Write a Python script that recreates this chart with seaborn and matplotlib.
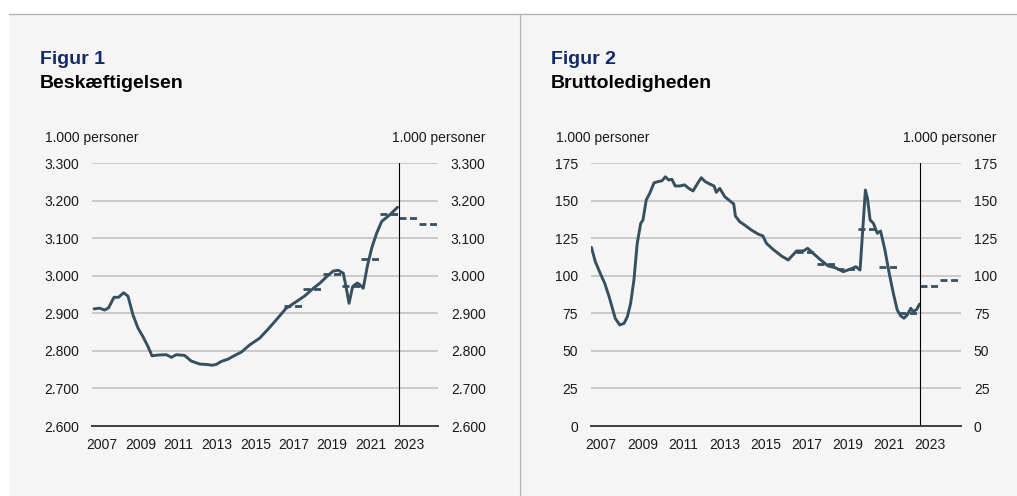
import numpy as np
import matplotlib.pyplot as plt
import seaborn as sns
from matplotlib.patches import Rectangle
from matplotlib.lines import Line2D

# Figur 1: Beskæftigelsen (1.000 personer)
t1 = [2007.09, 2007.38, 2007.64, 2007.85, 2008.13, 2008.37, 2008.63, 2008.86,
      2009.12, 2009.38, 2009.64, 2009.90, 2010.11, 2010.42, 2010.86, 2011.12,
      2011.38, 2011.81, 2012.16, 2012.60, 2012.94, 2013.24, 2013.46, 2013.72,
      2014.07, 2014.42, 2014.77, 2015.20, 2015.72, 2016.16, 2016.59, 2017.09,
      2017.65, 2018.08, 2018.52, 2018.87, 2019.21, 2019.56, 2019.82, 2020.08,
      2020.22, 2020.38, 2020.57, 2020.81, 2020.95, 2021.12, 2021.33, 2021.56,
      2021.82, 2022.08, 2022.51, 2022.91]
v1 = [2912, 2914, 2909, 2915, 2943, 2943, 2955, 2946,
      2896, 2861, 2838, 2812, 2787, 2789, 2790, 2783,
      2790, 2788, 2773, 2765, 2764, 2762, 2764, 2772,
      2778, 2788, 2797, 2816, 2834, 2858, 2883, 2913,
      2932, 2947, 2967, 2981, 2998, 3013, 3015, 3007,
      2972, 2927, 2972, 2981, 2976, 2967, 3025, 3074,
      3114, 3145, 3163, 3183]

# Figur 2: Bruttoledigheden (1.000 personer)
t2 = [2007.02, 2007.21, 2007.45, 2007.67, 2007.88,
      2008.02, 2008.18, 2008.40, 2008.61, 2008.77, 2008.93,
      2009.09, 2009.25, 2009.42, 2009.53, 2009.69, 2009.86,
      2010.07, 2010.26, 2010.46, 2010.62, 2010.78, 2010.94,
      2011.10, 2011.32, 2011.56, 2011.76, 2011.97,
      2012.17, 2012.37, 2012.56, 2012.78, 2012.99,
      2013.10, 2013.27, 2013.51, 2013.75, 2013.95,
      2014.03, 2014.24, 2014.48, 2014.80,
      2015.13, 2015.37, 2015.54, 2015.86,
      2016.27, 2016.60,
      2017.01, 2017.34, 2017.55, 2017.82,
      2018.15, 2018.55, 2018.88,
      2019.28, 2019.61, 2019.90,
      2020.10, 2020.23, 2020.36, 2020.46, 2020.59, 2020.75, 2020.94,
      2021.10, 2021.31, 2021.52, 2021.72, 2021.91,
      2022.08, 2022.24, 2022.40, 2022.57, 2022.69, 2022.86, 2023.00]
v2 = [119, 109.5, 101.7, 95, 86.2,
      79.5, 71.7, 67.3, 68.4, 72.8, 81.7,
      97.3, 121.7, 135, 137.2, 150.6, 155,
      162, 162.8, 163.4, 166, 163.9, 164.3,
      159.9, 159.9, 160.6, 158.3, 156.6,
      161.2, 165.4, 162.8, 161.2, 159.9,
      155.7, 158.3, 152.8, 150.1, 147.9,
      139.9, 136.1, 133.9, 130.6,
      127.9, 126.6, 121.7, 117.7,
      113.3, 110.6,
      116.6, 116.6, 118.4, 115,
      111, 106.6, 105.5,
      102.8, 104.4, 106.1,
      103.9, 130.6, 157.2, 151.7, 137.2, 135, 128.4,
      129.9, 117.3, 101.7, 88.4, 77.3,
      73.3, 71.8, 74, 78.4, 76.2, 77.7, 81.3]

# yearly averages / forecasts (dashed)
avg_years = [2017, 2018, 2019, 2020, 2021, 2022, 2023, 2024]
avg1 = [2920, 2964, 3005, 2974, 3046, 3165, 3154, 3137]
avg2 = [116, 108, 104.5, 131, 106, 75.5, 93, 97.5]

yticks1 = [2600, 2700, 2800, 2900, 3000, 3100, 3200, 3300]
yticks2 = [0, 25, 50, 75, 100, 125, 150, 175]
xlabels = [str(y) for y in range(2007, 2024, 2)]

LINE = '#36505f'
W, H = 1017, 496

sns.set_theme(style='white')
plt.rcParams['font.family'] = ['Liberation Sans', 'DejaVu Sans']

fig = plt.figure(figsize=(W / 100, H / 100), dpi=100)
fig.patch.set_facecolor('white')

# grey panels and frame lines
top = 1 - 13.5 / H
fig.add_artist(Rectangle((9 / W, 0), (519 - 9) / W, top, transform=fig.transFigure,
                         facecolor='#f5f5f5', edgecolor='none', zorder=-10))
fig.add_artist(Rectangle((520 / W, 0), (W - 520) / W, top, transform=fig.transFigure,
                         facecolor='#f5f5f5', edgecolor='none', zorder=-10))
fig.add_artist(Line2D([9 / W, 1], [top, top], transform=fig.transFigure, color='#b3b3b3', lw=1))
fig.add_artist(Line2D([519.5 / W, 519.5 / W], [0, top], transform=fig.transFigure, color='#b3b3b3', lw=1))


def fmt_dk(v):
    return f"{v:,.0f}".replace(',', '.')


def draw(ax, t, v, avg, yticks):
    sns.lineplot(x=t, y=v, ax=ax, color=LINE, lw=2.1, estimator=None, legend=False)
    ax.hlines(avg, avg_years, np.array(avg_years) + 1, colors=LINE, lw=2.0,
              linestyles=[(0, (2.5, 1.3))])
    ax.axvline(2023, color='black', lw=0.8)
    ax.set_xlim(2007, 2025)
    ax.set_ylim(yticks[0], yticks[-1])
    ax.set_yticks(yticks, labels=[fmt_dk(y) for y in yticks])
    ax.yaxis.grid(True, color='#bdbdbd', lw=1.1)
    ax.xaxis.grid(False)
    ax.set_axisbelow(True)
    ax.tick_params(axis='y', length=0, pad=9.5, labelleft=True, labelright=True,
                   labelsize=10, labelcolor='#1a1a1a')
    ax.set_xticks(range(2007, 2026), labels=[])
    ax.set_xticks([y + 0.5 for y in range(2007, 2024, 2)], labels=xlabels, minor=True)
    ax.tick_params(axis='x', which='major', length=3.5, width=0.8, color='#333333', direction='out')
    ax.tick_params(axis='x', which='minor', length=0, pad=8.5, labelsize=10, labelcolor='#1a1a1a')
    for s in ['top', 'left', 'right']:
        ax.spines[s].set_visible(False)
    ax.spines['bottom'].set_color('#404040')
    ax.spines['bottom'].set_linewidth(1.4)
    ax.set_facecolor('none')
    ax.set_xlabel('')
    ax.set_ylabel('')


y0 = 1 - 426 / H
h = (426 - 163.3) / H
ax1 = fig.add_axes([92.3 / W, y0, (437.7 - 92.3) / W, h])
ax2 = fig.add_axes([591 / W, y0, (960.7 - 591) / W, h])
draw(ax1, t1, v1, avg1, yticks1)
draw(ax2, t2, v2, avg2, yticks2)

NAVY = '#12296b'
for x0, num, title, ul, ur in [(40, 'Figur 1', 'Beskæftigelsen', 45, 486),
                               (551, 'Figur 2', 'Bruttoledigheden', 556, 996.7)]:
    fig.text(x0 / W, 1 - 63.5 / H, num, color=NAVY, fontsize=14, fontweight='bold', va='baseline')
    fig.text(x0 / W, 1 - 88.5 / H, title, color='black', fontsize=14, fontweight='bold', va='baseline')
    fig.text(ul / W, 1 - 142 / H, '1.000 personer', fontsize=10, va='baseline', color='#1a1a1a')
    fig.text(ur / W, 1 - 142 / H, '1.000 personer', fontsize=10, va='baseline', ha='right', color='#1a1a1a')

fig.savefig('out.png', dpi=100)
